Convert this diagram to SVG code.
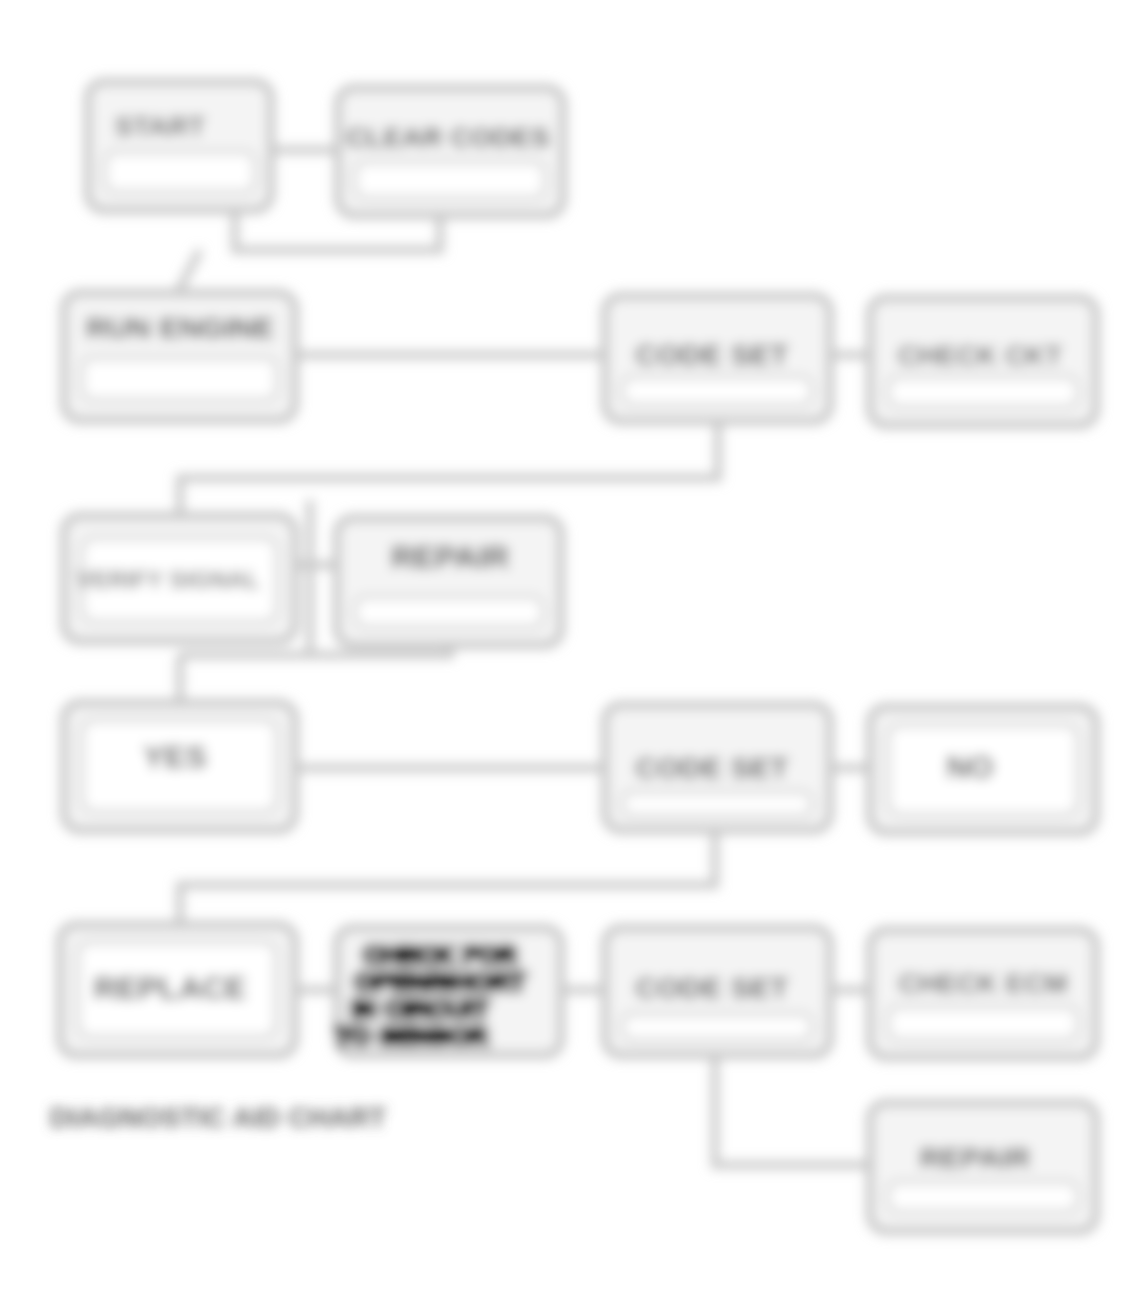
<svg xmlns="http://www.w3.org/2000/svg" width="1137" height="1303" viewBox="0 0 1137 1303">
<defs>
<filter id="soft" x="-5%" y="-5%" width="110%" height="110%"><feGaussianBlur stdDeviation="6"/></filter>
</defs>
<style>
.outer{fill:#f4f4f4;stroke:#c4c4c4;stroke-width:8}
.inner{fill:#ffffff;stroke:#dedede;stroke-width:6}
.lbl{font-family:"Liberation Sans",Arial,sans-serif;font-weight:bold;fill:#444;text-anchor:middle}
.heavy{fill:#000;stroke:#000;stroke-width:4}
.con{fill:none;stroke:#c8c8c8;stroke-width:8}
</style>
<rect width="1137" height="1303" fill="#ffffff"/>
<g filter="url(#soft)">
<g id="connectors">
<path class="con" d="M273,150 H338"/>
<path class="con" d="M235,210 V250 H440 V215"/>
<path class="con" d="M200,250 L178,292"/>
<path class="con" d="M295,355 H603"/>
<path class="con" d="M830,355 H868"/>
<path class="con" d="M718,420 V478 H180 V515"/>
<path class="con" d="M295,565 H335"/>
<path class="con" d="M310,500 V655"/>
<path class="con" d="M180,655 H450 V645"/>
<path class="con" d="M180,655 V703"/>
<path class="con" d="M295,768 H603"/>
<path class="con" d="M830,768 H868"/>
<path class="con" d="M715,830 V885 H180 V925"/>
<path class="con" d="M295,990 H335"/>
<path class="con" d="M560,990 H603"/>
<path class="con" d="M830,990 H868"/>
<path class="con" d="M715,1055 V1165 H868"/>
</g>
<g id="nA"><rect class="outer" x="88" y="82" width="183" height="128" rx="16"/><rect class="inner" x="105" y="152" width="150" height="40" rx="10"/><text class="lbl" x="160" y="136" font-size="28" style="fill:#555">START</text></g>
<g id="nB"><rect class="outer" x="338" y="88" width="225" height="127" rx="16"/><rect class="inner" x="355" y="162" width="190" height="36" rx="10"/><text class="lbl" x="448" y="147" font-size="28" style="fill:#333">CLEAR CODES</text></g>
<g id="nC"><rect class="outer" x="64" y="293" width="231" height="127" rx="16"/><rect class="inner" x="82" y="358" width="195" height="42" rx="10"/><text class="lbl" x="180" y="338" font-size="30" style="fill:#333">RUN ENGINE</text></g>
<g id="nD"><rect class="outer" x="605" y="296" width="225" height="125" rx="16"/><rect class="inner" x="622" y="377" width="190" height="28" rx="10"/><text class="lbl" x="712" y="365" font-size="30">CODE SET</text></g>
<g id="nE"><rect class="outer" x="870" y="298" width="226" height="127" rx="16"/><rect class="inner" x="888" y="377" width="190" height="30" rx="10"/><text class="lbl" x="980" y="365" font-size="28" style="fill:#555">CHECK CKT</text></g>
<g id="nF"><rect class="outer" x="64" y="516" width="231" height="125" rx="16"/><rect class="inner" x="82" y="538" width="195" height="84" rx="12"/><text class="lbl" x="168" y="588" font-size="24" style="fill:#777">VERIFY SIGNAL</text></g>
<g id="nG"><rect class="outer" x="337" y="518" width="224" height="127" rx="16"/><rect class="inner" x="355" y="597" width="188" height="30" rx="10"/><text class="lbl" x="450" y="568" font-size="32" style="fill:#2e2e2e">REPAIR</text></g>
<g id="nH"><rect class="outer" x="64" y="703" width="231" height="127" rx="16"/><rect class="inner" x="82" y="720" width="195" height="92" rx="12"/><text class="lbl" x="175" y="768" font-size="32" style="fill:#404040">YES</text></g>
<g id="nI"><rect class="outer" x="605" y="705" width="225" height="125" rx="16"/><rect class="inner" x="622" y="792" width="190" height="24" rx="10"/><text class="lbl" x="712" y="778" font-size="30">CODE SET</text></g>
<g id="nJ"><rect class="outer" x="870" y="707" width="226" height="125" rx="16"/><rect class="inner" x="888" y="725" width="190" height="90" rx="12"/><text class="lbl" x="970" y="778" font-size="32">NO</text></g>
<g id="nK"><rect class="outer" x="60" y="925" width="235" height="130" rx="16"/><rect class="inner" x="78" y="942" width="198" height="95" rx="12"/><text class="lbl" x="170" y="999" font-size="32" style="fill:#2e2e2e">REPLACE</text></g>
<g id="nL"><rect class="outer" x="337" y="928" width="224" height="127" rx="16"/>
<text class="lbl heavy" x="440" y="964" font-size="26">CHECK FOR</text>
<text class="lbl heavy" x="440" y="991" font-size="26">OPEN/SHORT</text>
<text class="lbl heavy" x="420" y="1018" font-size="26">IN CIRCUIT</text>
<text class="lbl heavy" x="412" y="1045" font-size="26">TO SENSOR</text></g>
<g id="nM"><rect class="outer" x="605" y="928" width="225" height="127" rx="16"/><rect class="inner" x="622" y="1014" width="190" height="26" rx="10"/><text class="lbl" x="712" y="998" font-size="30">CODE SET</text></g>
<g id="nN"><rect class="outer" x="870" y="930" width="226" height="127" rx="16"/><rect class="inner" x="888" y="1007" width="190" height="33" rx="10"/><text class="lbl" x="983" y="993" font-size="28" style="fill:#555">CHECK ECM</text></g>
<g id="nO"><rect class="outer" x="870" y="1103" width="226" height="128" rx="16"/><rect class="inner" x="888" y="1182" width="190" height="30" rx="10"/><text class="lbl" x="975" y="1168" font-size="30">REPAIR</text></g>
<text class="lbl" x="218" y="1127" font-size="28" style="fill:#666">DIAGNOSTIC AID CHART</text>
</g>
</svg>
